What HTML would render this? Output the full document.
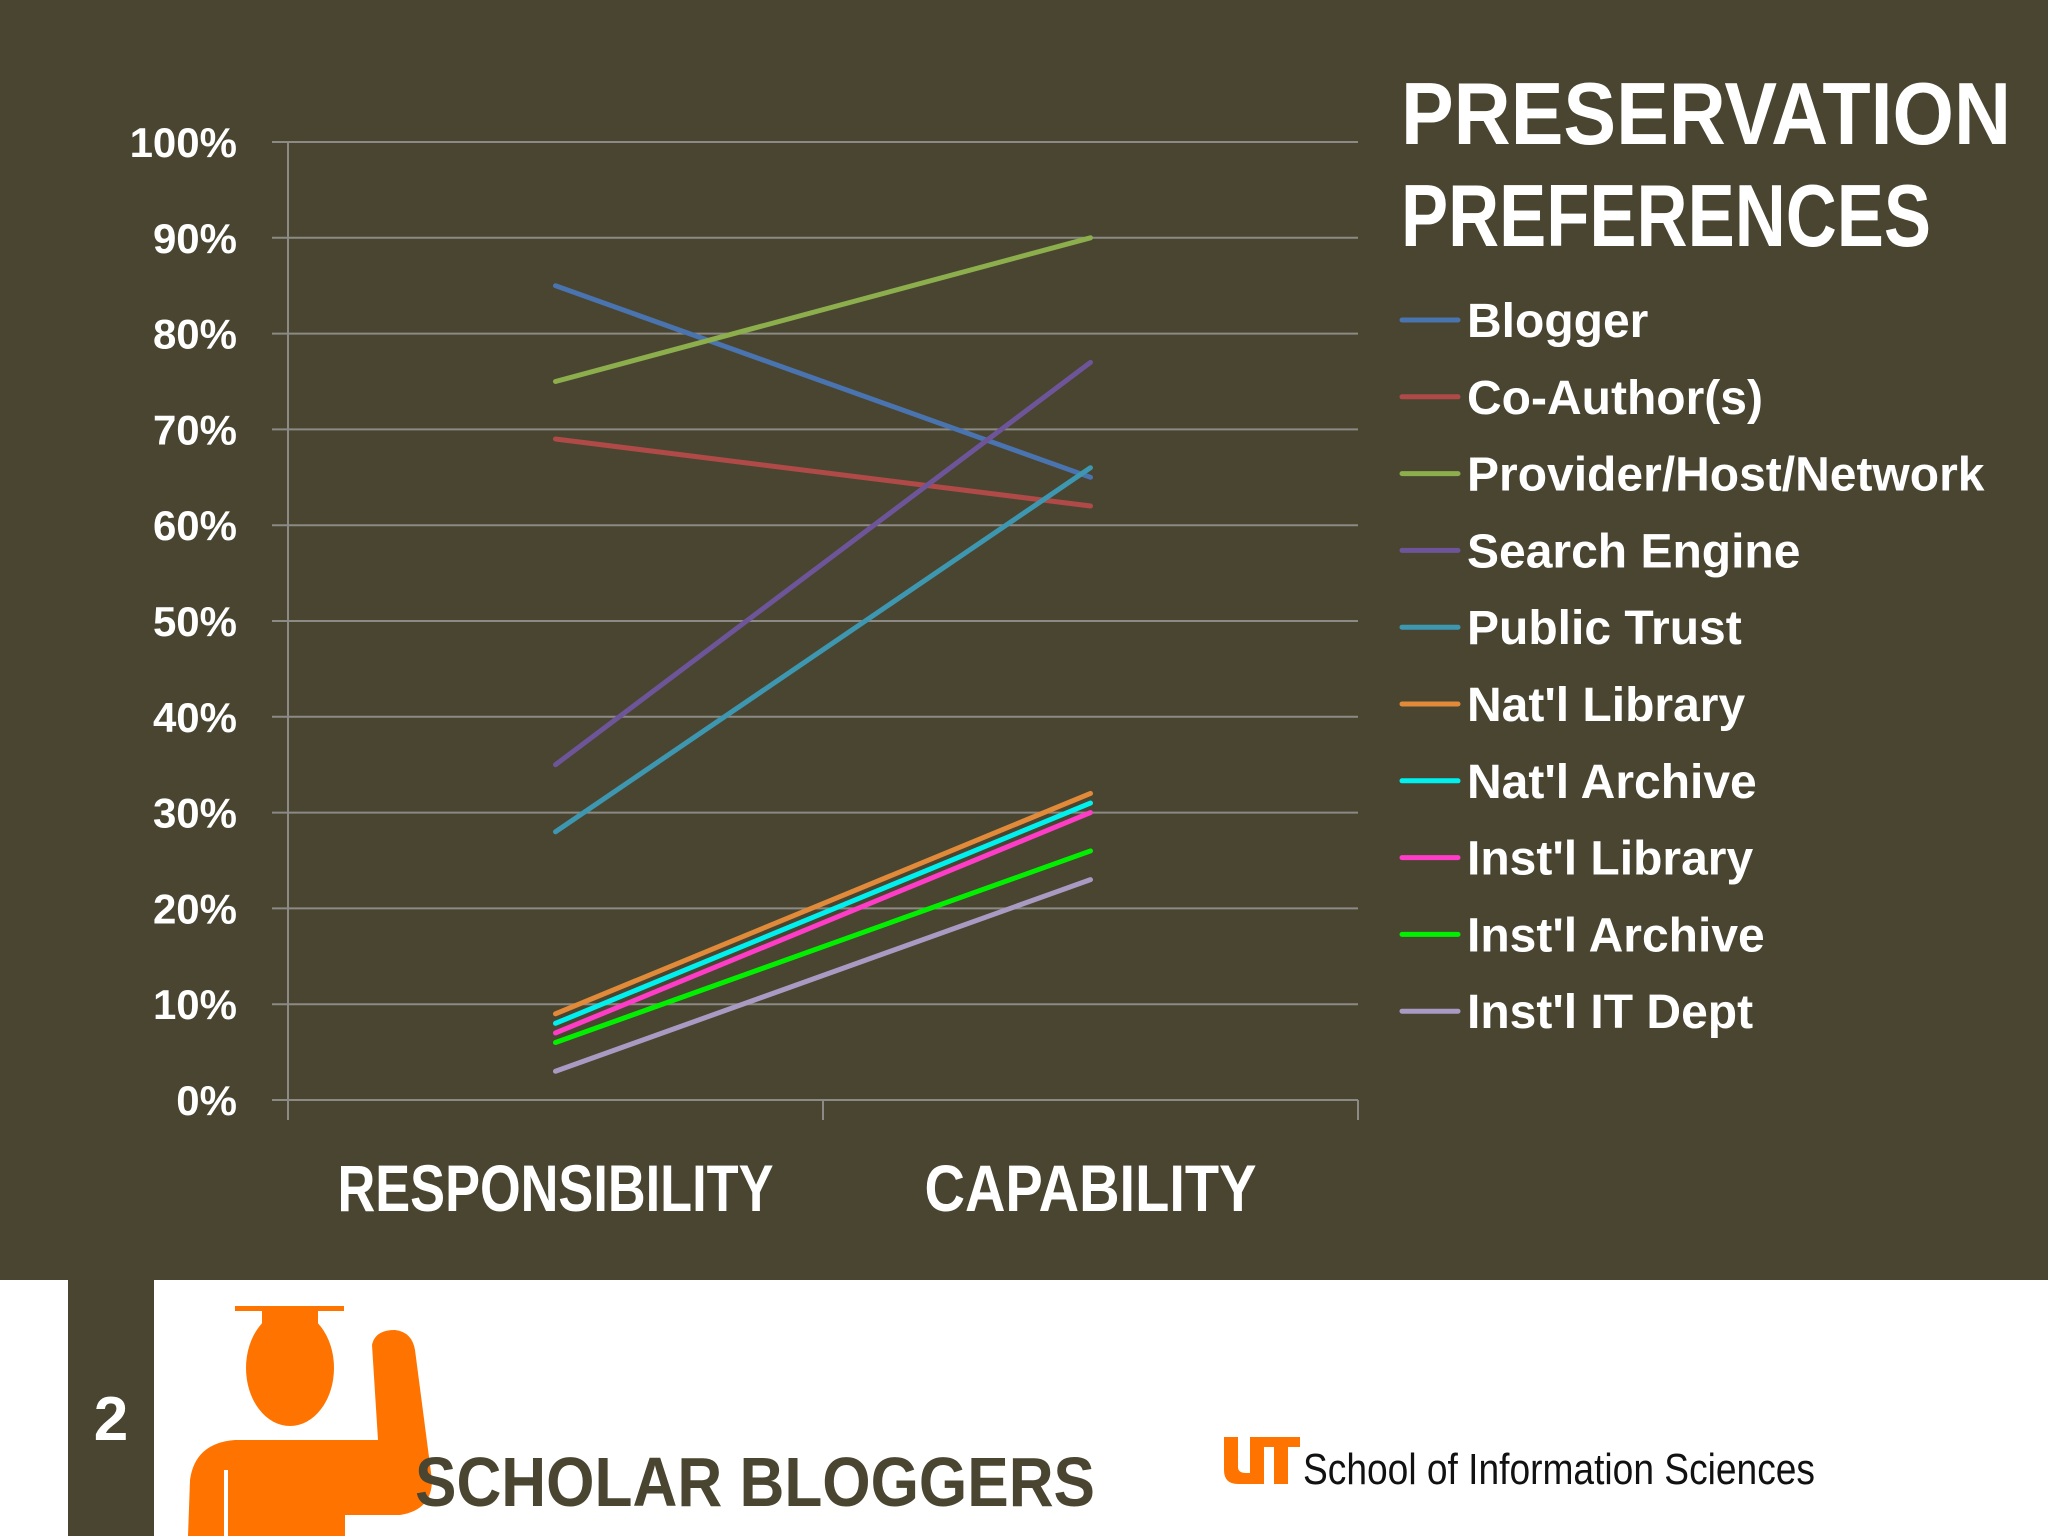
<!DOCTYPE html>
<html><head><meta charset="utf-8"><style>
html,body{margin:0;padding:0;background:#494530}
svg{display:block}
text{font-family:"Liberation Sans",sans-serif;font-weight:bold}
</style></head><body>
<svg id="chart" width="2048" height="1536" viewBox="0 0 2048 1536" xmlns="http://www.w3.org/2000/svg">
<rect x="0" y="0" width="2048" height="1280" fill="#494530"/>
<rect x="0" y="1280" width="2048" height="256" fill="#ffffff"/>
<rect x="68" y="1280" width="86" height="256" fill="#494530"/>
<text x="111" y="1440" font-size="62" fill="#ffffff" text-anchor="middle">2</text>
<g fill="#ff7400">
<rect x="235" y="1306" width="109" height="5"/>
<ellipse cx="290" cy="1368" rx="44" ry="58"/>
<rect x="262" y="1308" width="56" height="40"/>
<path d="M188,1536 L190,1480 Q195,1443 235,1440 L378,1440 L372,1345 Q375,1330 395,1330 Q412,1332 415,1350 L432,1480 Q432,1510 400,1515 L345,1515 L345,1536 Z"/>
</g>
<rect x="224" y="1470" width="4" height="66" fill="#ffffff"/>
<text x="415" y="1506" font-size="70" fill="#494530" textLength="680" lengthAdjust="spacingAndGlyphs">SCHOLAR BLOGGERS</text>
<g fill="#ff7400">
<path d="M1224,1437 h14 v30 q0,6 8,6 h4 v-36 h14 v47 h-26 q-14,0 -14,-14 Z"/>
<path d="M1262,1437 h38 v10 h-12 v37 h-14 v-37 h-12 Z"/>
</g>
<text x="1303" y="1484" font-size="44" fill="#111111" font-weight="normal" textLength="512" lengthAdjust="spacingAndGlyphs" style="font-weight:normal">School of Information Sciences</text>
<text x="1401" y="144" font-size="88" fill="#ffffff" textLength="610" lengthAdjust="spacingAndGlyphs">PRESERVATION</text>
<text x="1401" y="246" font-size="88" fill="#ffffff" textLength="530" lengthAdjust="spacingAndGlyphs">PREFERENCES</text>
<g id="grid"></g><g id="axes"></g><g id="series"></g><g id="legend"></g>
</svg>
<script>
const categories = ["RESPONSIBILITY", "CAPABILITY"];
const seriesNames = ["Blogger","Co-Author(s)","Provider/Host/Network","Search Engine","Public Trust","Nat'l Library","Nat'l Archive","Inst'l Library","Inst'l Archive","Inst'l IT Dept"];
const responsibility = [85,69,75,35,28,9,8,7,6,3];
const capability = [65,62,90,77,66,32,31,30,26,23];
const yTicks = [0,10,20,30,40,50,60,70,80,90,100];
const yTickLabels = ["0%","10%","20%","30%","40%","50%","60%","70%","80%","90%","100%"];
const colors = ["#4a74b0","#b04a48","#8cae4c","#6e5599","#3e97b0","#e08a3a","#00f0f0","#ff3cc8","#00f000","#a99ac4"];
const NS="http://www.w3.org/2000/svg";
const X0=288,X1=1358,Y0=1100,Y1=142;
const yS=v=>Y0-(v/100)*(Y0-Y1);
const band=(X1-X0)/categories.length;
const xS=i=>X0+band*(i+0.5);
function mk(tag,attrs,parent){const e=document.createElementNS(NS,tag);for(const k in attrs)e.setAttribute(k,attrs[k]);parent.appendChild(e);return e;}
const grid=document.getElementById('grid'),axes=document.getElementById('axes'),ser=document.getElementById('series'),leg=document.getElementById('legend');
yTicks.forEach((t,i)=>{
  const l=mk('line',{x1:272,x2:X1,y1:yS(t),y2:yS(t),stroke:'#8c8a84','stroke-width':2},grid);
  
  
  const tx=mk('text',{x:237,y:yS(t)+15,'font-size':42,fill:'#ffffff','text-anchor':'end'},axes);
  tx.textContent=yTickLabels[i];
  
  
});
const ya=mk('line',{x1:X0,x2:X0,y1:Y1,y2:Y0+20,stroke:'#8c8a84','stroke-width':2},axes);


for(let i=0;i<=categories.length;i++){
  const tk=mk('line',{x1:X0+band*i,x2:X0+band*i,y1:Y0,y2:Y0+20,stroke:'#8c8a84','stroke-width':2},axes);
  
  
}
categories.forEach((c,i)=>{
  const tx=mk('text',{x:xS(i),y:1211,'font-size':66,fill:'#ffffff','text-anchor':'middle'},axes);
  tx.textContent=c;
  tx.setAttribute('textLength', i===0?436:332);
  tx.setAttribute('lengthAdjust','spacingAndGlyphs');
  
  
});
seriesNames.forEach((n,i)=>{
  const l=mk('line',{x1:xS(0),y1:yS(responsibility[i]),x2:xS(1),y2:yS(capability[i]),stroke:colors[i],'stroke-width':5,'stroke-linecap':'round'},ser);
  
  
  const y=320+76.8*i;
  const g=mk('g',{},leg);
  
  
  mk('line',{x1:1402,x2:1458,y1:y,y2:y,stroke:colors[i],'stroke-width':5,'stroke-linecap':'round'},g);
  const t=mk('text',{x:1467,y:y+17,'font-size':48,fill:'#ffffff'},g);
  t.textContent=n;
});
</script>
</body></html>
